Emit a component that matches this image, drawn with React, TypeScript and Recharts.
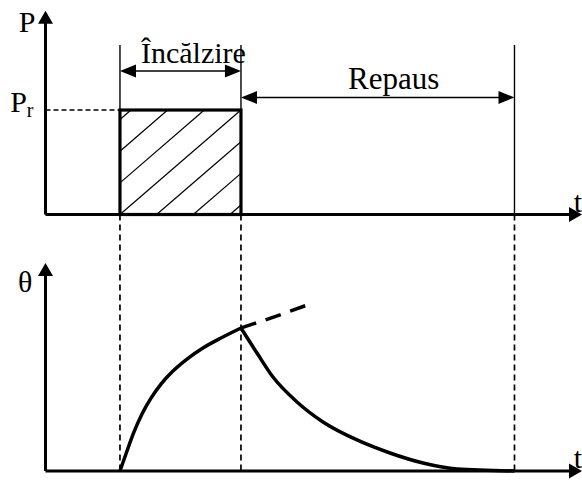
import React from 'react';
import {
  ComposedChart,
  Line,
  XAxis,
  YAxis,
  ReferenceLine,
  ReferenceArea,
  ReferenceDot,
} from 'recharts';

// ---- time axis (arbitrary units, heating lasts 20 units) ----
const X_MIN = -7.52;
const X_MAX = 88.68;
const T_ON = 12.31;
const T_OFF = 32.31;
const T_REST = 77.52;

// ---- power panel (P, in units of Pr) ----
const P_MIN = -2.541;
const P_MAX = 2.053;
const PR = 1;
const P_AXIS_TOP = 1.95;
const P_MARK_TOP = 1.622;
const P_ARROW_HEAT = 1.373;
const P_ARROW_REST = 1.12;
const P_AT_THETA_ZERO = -2.455;

// ---- temperature panel (θ, in units of θ at end of heating) ----
const TH_MIN = -0.063;
const TH_MAX = 3.294;
const TH_AXIS_TOP = 1.455;

// heating curve
const heatingT = [12.31, 13.47, 14.63, 15.95, 17.44, 19.09, 21.07, 23.39, 26.03, 29.01, 32.31];
const heatingTheta = [0, 0.14, 0.273, 0.399, 0.51, 0.608, 0.699, 0.783, 0.86, 0.93, 1.0];
// continuation of heating (dashed)
const extensionT = [32.31, 37.93, 43.72];
const extensionTheta = [1.0, 1.08, 1.168];
// cooling curve (rest)
const coolingT = [32.31, 34.96, 37.6, 41.57, 45.87, 51.49, 56.94, 62.4, 68.02, 77.52];
const coolingTheta = [1.0, 0.825, 0.657, 0.483, 0.343, 0.217, 0.126, 0.056, 0.014, 0];

// texts
const LABEL_P = 'P';
const LABEL_PR_MAIN = 'P';
const LABEL_PR_SUB = 'r';
const LABEL_THETA = 'θ';
const LABEL_T = 't';
const LABEL_HEAT = 'Încălzire';
const LABEL_REST = 'Repaus';

const HATCH_STEP = 0.303;

const heatingData = heatingT.map((t, i) => ({ t, theta: heatingTheta[i] }));
const extensionData = extensionT.map((t, i) => ({ t, theta: extensionTheta[i] }));
const coolingData = coolingT.map((t, i) => ({ t, theta: coolingTheta[i] }));

const FONT = '"Liberation Serif", "Times New Roman", serif';
const INK = '#000';

const arrowShape =
  (head: 'end' | 'both', len: number, half: number) =>
  (props: any) => {
    const { x1, y1, x2, y2, stroke = INK, strokeWidth = 1 } = props;
    const dx = x2 - x1;
    const dy = y2 - y1;
    const L = Math.hypot(dx, dy) || 1;
    const ux = dx / L;
    const uy = dy / L;
    const tri = (tx: number, ty: number, dx0: number, dy0: number) => {
      const bx = tx - dx0 * len;
      const by = ty - dy0 * len;
      const px = -dy0 * half;
      const py = dx0 * half;
      return `${tx},${ty} ${bx + px},${by + py} ${bx - px},${by - py}`;
    };
    const sx = head === 'both' ? x1 + ux * len * 0.5 : x1;
    const sy = head === 'both' ? y1 + uy * len * 0.5 : y1;
    const ex = x2 - ux * len * 0.5;
    const ey = y2 - uy * len * 0.5;
    return (
      <g>
        <line x1={sx} y1={sy} x2={ex} y2={ey} stroke={stroke} strokeWidth={strokeWidth} />
        <polygon points={tri(x2, y2, ux, uy)} fill={stroke} />
        {head === 'both' && <polygon points={tri(x1, y1, -ux, -uy)} fill={stroke} />}
      </g>
    );
  };

const HatchedBox = (props: any) => {
  const { x, y, width: w, height: h } = props;
  const lines: React.ReactNode[] = [];
  for (let k = -3; k <= 3; k++) {
    const c = k * HATCH_STEP;
    let u1: number, v1: number, u2: number, v2: number;
    if (c >= 0) {
      u1 = c; v1 = 0; u2 = 1; v2 = 1 - c;
    } else {
      u1 = 0; v1 = -c; u2 = 1 + c; v2 = 1;
    }
    lines.push(
      <line
        key={k}
        x1={x + u1 * w}
        y1={y + h - v1 * h}
        x2={x + u2 * w}
        y2={y + h - v2 * h}
        stroke={INK}
        strokeWidth={1.2}
      />
    );
  }
  return (
    <g>
      <rect x={x} y={y} width={w} height={h} fill="#fff" />
      {lines}
      <rect x={x} y={y} width={w} height={h} fill="none" stroke={INK} strokeWidth={3.2} />
    </g>
  );
};

const textAt =
  (
    content: React.ReactNode,
    dx: number,
    dy: number,
    size: number,
    anchor: 'start' | 'middle' | 'end' = 'middle'
  ) =>
  (props: any) => {
    const vb = props.viewBox || {};
    const x = (vb.x ?? 0) + (vb.width ?? 0) / 2 + dx;
    const y = (vb.y ?? 0) + (vb.height ?? 0) / 2 + dy;
    return (
      <text x={x} y={y} fontFamily={FONT} fontSize={size} fill={INK} textAnchor={anchor}>
        {content}
      </text>
    );
  };

const axisArrow = arrowShape('end', 13, 7.5);
const dimArrow = arrowShape('both', 16, 6.5);

export default function App() {
  return (
    <div style={{ position: 'absolute', left: 0, top: 0, width: 582, height: 480, background: '#fff' }}>
      <ComposedChart width={582} height={480} margin={{ top: 0, right: 0, bottom: 0, left: 0 }}>
        <XAxis type="number" dataKey="t" domain={[X_MIN, X_MAX]} allowDataOverflow hide />
        <YAxis yAxisId="p" type="number" domain={[P_MIN, P_MAX]} allowDataOverflow hide />
        <YAxis yAxisId="th" type="number" domain={[TH_MIN, TH_MAX]} allowDataOverflow hide />

        {/* dashed projections between panels */}
        {[T_ON, T_OFF, T_REST].map((tx) => (
          <ReferenceLine
            key={`d${tx}`}
            yAxisId="p"
            segment={[{ x: tx, y: 0 }, { x: tx, y: P_AT_THETA_ZERO }]}
            stroke={INK}
            strokeWidth={1.7}
            strokeDasharray="6 4"
            ifOverflow="visible"
          />
        ))}

        {/* Pr level */}
        <ReferenceLine
          yAxisId="p"
          segment={[{ x: 0, y: PR }, { x: T_ON, y: PR }]}
          stroke={INK}
          strokeWidth={1.4}
          strokeDasharray="5 3"
          ifOverflow="visible"
        />

        {/* thin boundary marks */}
        <ReferenceLine
          yAxisId="p"
          segment={[{ x: T_ON, y: PR }, { x: T_ON, y: P_MARK_TOP }]}
          stroke={INK}
          strokeWidth={1.4}
          ifOverflow="visible"
        />
        <ReferenceLine
          yAxisId="p"
          segment={[{ x: T_OFF, y: PR }, { x: T_OFF, y: P_MARK_TOP }]}
          stroke={INK}
          strokeWidth={1.4}
          ifOverflow="visible"
        />
        <ReferenceLine
          yAxisId="p"
          segment={[{ x: T_REST, y: 0 }, { x: T_REST, y: P_MARK_TOP }]}
          stroke={INK}
          strokeWidth={1.4}
          ifOverflow="visible"
        />

        {/* heating power pulse */}
        <ReferenceArea
          yAxisId="p"
          x1={T_ON}
          x2={T_OFF}
          y1={0}
          y2={PR}
          shape={HatchedBox}
          ifOverflow="visible"
        />

        {/* interval arrows */}
        <ReferenceLine
          yAxisId="p"
          segment={[{ x: T_ON, y: P_ARROW_HEAT }, { x: T_OFF, y: P_ARROW_HEAT }]}
          stroke={INK}
          strokeWidth={1.5}
          shape={dimArrow}
          ifOverflow="visible"
        />
        <ReferenceLine
          yAxisId="p"
          segment={[{ x: T_OFF, y: P_ARROW_REST }, { x: T_REST, y: P_ARROW_REST }]}
          stroke={INK}
          strokeWidth={1.5}
          shape={dimArrow}
          ifOverflow="visible"
        />

        {/* temperature curves */}
        <Line
          data={extensionData}
          dataKey="theta"
          yAxisId="th"
          type="monotone"
          stroke={INK}
          strokeWidth={3.5}
          strokeDasharray="16 10"
          dot={false}
          activeDot={false}
          isAnimationActive={false}
        />
        <Line
          data={heatingData}
          dataKey="theta"
          yAxisId="th"
          type="monotone"
          stroke={INK}
          strokeWidth={3.5}
          dot={false}
          activeDot={false}
          isAnimationActive={false}
        />
        <Line
          data={coolingData}
          dataKey="theta"
          yAxisId="th"
          type="monotone"
          stroke={INK}
          strokeWidth={3.5}
          dot={false}
          activeDot={false}
          isAnimationActive={false}
        />

        {/* axes */}
        <ReferenceLine
          yAxisId="p"
          segment={[{ x: 0, y: 0 }, { x: X_MAX, y: 0 }]}
          stroke={INK}
          strokeWidth={3}
          shape={axisArrow}
          ifOverflow="visible"
        />
        <ReferenceLine
          yAxisId="p"
          segment={[{ x: 0, y: 0 }, { x: 0, y: P_AXIS_TOP }]}
          stroke={INK}
          strokeWidth={3}
          shape={axisArrow}
          ifOverflow="visible"
        />
        <ReferenceLine
          yAxisId="th"
          segment={[{ x: 0, y: 0 }, { x: X_MAX, y: 0 }]}
          stroke={INK}
          strokeWidth={3}
          shape={axisArrow}
          ifOverflow="visible"
        />
        <ReferenceLine
          yAxisId="th"
          segment={[{ x: 0, y: 0 }, { x: 0, y: TH_AXIS_TOP }]}
          stroke={INK}
          strokeWidth={3}
          shape={axisArrow}
          ifOverflow="visible"
        />

        {/* texts */}
        <ReferenceDot yAxisId="p" x={0} y={P_AXIS_TOP} r={0} fill="none" stroke="none" ifOverflow="visible"
          label={textAt(LABEL_P, -10, 21, 30, 'end')} />
        <ReferenceDot yAxisId="p" x={0} y={PR} r={0} fill="none" stroke="none" ifOverflow="visible"
          label={textAt(
            <>
              <tspan>{LABEL_PR_MAIN}</tspan>
              <tspan fontSize={20} dy={5}>{LABEL_PR_SUB}</tspan>
            </>,
            -12, 2, 30, 'end'
          )} />
        <ReferenceDot yAxisId="th" x={0} y={TH_AXIS_TOP} r={0} fill="none" stroke="none" ifOverflow="visible"
          label={textAt(LABEL_THETA, -13, 29, 30, 'end')} />
        <ReferenceDot yAxisId="p" x={X_MAX} y={0} r={0} fill="none" stroke="none" ifOverflow="visible"
          label={textAt(LABEL_T, -4, -3, 30, 'middle')} />
        <ReferenceDot yAxisId="th" x={X_MAX} y={0} r={0} fill="none" stroke="none" ifOverflow="visible"
          label={textAt(LABEL_T, -4, -3, 30, 'middle')} />
        <ReferenceDot yAxisId="p" x={(T_ON + T_OFF) / 2} y={P_ARROW_HEAT} r={0} fill="none" stroke="none" ifOverflow="visible"
          label={textAt(LABEL_HEAT, 13, -8, 30, 'middle')} />
        <ReferenceDot yAxisId="p" x={(T_OFF + T_REST) / 2} y={P_ARROW_REST} r={0} fill="none" stroke="none" ifOverflow="visible"
          label={textAt(LABEL_REST, 16, -8.5, 31, 'middle')} />
      </ComposedChart>
    </div>
  );
}
